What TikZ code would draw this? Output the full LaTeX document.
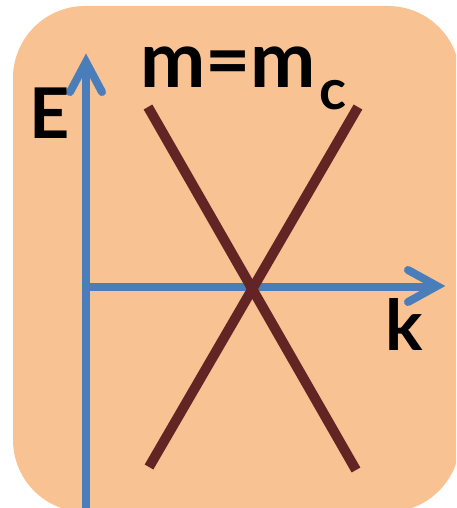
\documentclass[tikz,border=0pt]{standalone}
\usepackage{fontspec}
\setmainfont{Lato}
\usetikzlibrary{arrows.meta}
\definecolor{bgorange}{HTML}{F9C293}
\definecolor{axisblue}{HTML}{4A7EBB}
\definecolor{linebrown}{HTML}{632523}
\tikzset{
  axisline/.style={draw=axisblue, line width=8pt, line cap=butt},
  chev/.style={draw=axisblue, line width=8pt, line cap=round, line join=miter},
  bandline/.style={draw=linebrown, line width=10pt, line cap=butt},
  lbl/.style={inner sep=0pt, text=black}
}
\begin{document}
\begin{tikzpicture}[x=1pt,y=-1pt]
\useasboundingbox (0,0) rectangle (456,508);
\begin{scope}
\clip (0,0) rectangle (456,508);
\fill[bgorange, rounded corners=72pt] (13,6) rectangle (460,512);
\end{scope}
% axes
\coordinate (ybot) at (86,508);
\coordinate (ytop) at (86,64);
\coordinate (xleft) at (86,287);
\coordinate (xright) at (435,287);
\draw[axisline] (ybot) -- (ytop);
\draw[axisline] (xleft) -- (xright);
\draw[chev] (70,92) -- (86,62) -- (102,92);
\draw[chev] (408,270) -- (437,286) -- (408,302);
% bands
\coordinate (a1) at (148,107);
\coordinate (a2) at (356,470);
\coordinate (b1) at (358,107);
\coordinate (b2) at (149,467);
\draw[bandline] (a1) -- (a2);
\draw[bandline] (b1) -- (b2);
% labels
\node[lbl, anchor=base west, font=\bfseries\fontsize{78}{80}\selectfont] (mlab) at (140,88) {m=m};
\node[lbl, anchor=base west, font=\bfseries\fontsize{56}{58}\selectfont] (clab) at ([xshift=3pt,yshift=-22pt]mlab.base east) {c};
\node[lbl, anchor=base, font=\bfseries\fontsize{70}{72}\selectfont] (elab) at (50,138) {E};
\node[lbl, anchor=base, font=\bfseries\fontsize{70}{72}\selectfont] (klab) at (404,350) {k};
\end{tikzpicture}
\end{document}
